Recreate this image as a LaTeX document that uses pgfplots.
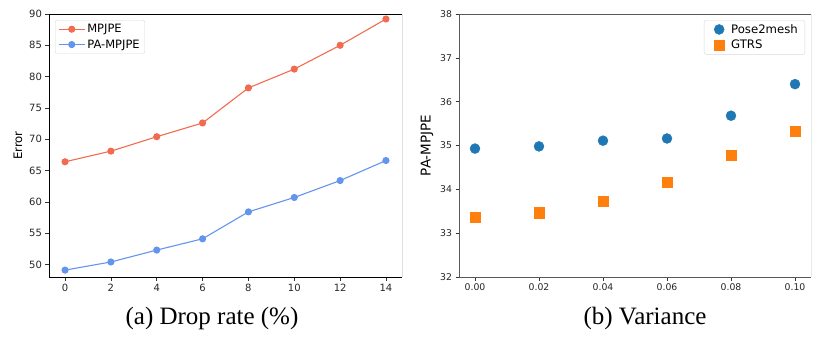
\documentclass[border=0pt]{standalone}
\usepackage{fontspec}
\setmainfont{Liberation Serif}
\newfontfamily\dejavu{DejaVu Sans}
\usepackage{pgfplots}
\pgfplotsset{compat=1.18}
\definecolor{mpRed}{HTML}{F26B50}
\definecolor{mpBlue}{HTML}{6495ED}
\definecolor{tabBlue}{HTML}{1F77B4}
\definecolor{tabOrange}{HTML}{FF7F0E}

\pgfplotsset{
  mplstyle/.style={
    scale only axis,
    width=353pt, height=263pt,
    tick align=outside,
    major tick length=3.5pt,
    tick style={black!80, line width=0.6pt},
    axis x line*=bottom, axis y line*=left,
    ticklabel style={text=black!85},
    /pgf/number format/assume math mode=true,
    legend style={draw=black!15, rounded corners=2pt, inner xsep=3pt, inner ysep=2pt,
      row sep=1.5pt},
    legend cell align=left,
  }
}

\begin{document}
\begin{tikzpicture}
\useasboundingbox (-49pt,-61pt) rectangle (781pt,277pt);
\begin{axis}[
    mplstyle,
    name=left,
    axis line style={black, line width=0.8pt},
    ticklabel style={font=\dejavu\fontsize{10}{12}\selectfont},
    ylabel style={font=\dejavu\fontsize{11.7}{14}\selectfont,
      at={(axis description cs:-0.088,0.5)}, anchor=center},
    xmin=-0.7, xmax=14.7,
    ymin=48, ymax=90,
    xtick={0,2,...,14},
    ytick={50,55,...,90},
    ylabel={Error},
    legend style={font=\dejavu\fontsize{11.5}{14}\selectfont,
      at={(rel axis cs:0.017,0.977)}, anchor=north west},
    legend image code/.code={
      \draw[mark repeat=2, mark phase=2, #1] plot coordinates {(0pt,0pt) (13pt,0pt) (26pt,0pt)};},
  ]
  \draw[black, line width=0.8pt] (rel axis cs:0,1) -- (rel axis cs:1,1) -- (rel axis cs:1,0);
  \addplot[mpRed, line width=1.1pt, mark=*, mark size=3pt] coordinates {
    (0,66.4) (2,68.1) (4,70.4) (6,72.6) (8,78.2) (10,81.2) (12,85.0) (14,89.2)};
  \addplot[mpBlue, line width=1.1pt, mark=*, mark size=3pt] coordinates {
    (0,49.1) (2,50.4) (4,52.3) (6,54.1) (8,58.4) (10,60.7) (12,63.4) (14,66.6)};
  \legend{MPJPE, PA-MPJPE}
\end{axis}
\node[font=\fontsize{25}{30}\selectfont, anchor=base] at (163pt,-47pt) {(a) Drop rate (\%)};

\begin{axis}[
    mplstyle,
    at={(410pt,0pt)},
    width=352pt,
    axis line style={black!65, line width=0.8pt},
    ticklabel style={font=\dejavu\fontsize{9.3}{11}\selectfont},
    ylabel style={font=\dejavu\fontsize{13.5}{16}\selectfont,
      at={(axis description cs:-0.091,0.5)}, anchor=center},
    xmin=-0.005, xmax=0.105,
    ymin=32, ymax=38,
    xtick={0,0.02,...,0.10},
    ytick={32,...,38},
    xticklabel style={/pgf/number format/.cd, fixed, fixed zerofill, precision=2},
    ylabel={PA-MPJPE},
    legend style={font=\dejavu\fontsize{11.7}{14}\selectfont,
      at={(rel axis cs:0.983,0.977)}, anchor=north east, inner xsep=5pt},
    legend image code/.code={
      \path[draw=none, fill=none] (0pt,0pt) (20pt,0pt);
      \draw[#1] plot coordinates {(10pt,0pt)};},
  ]
  \draw[black!65, line width=0.8pt] (rel axis cs:0,1) -- (rel axis cs:1,1) -- (rel axis cs:1,0);
  \addplot[only marks, mark=*, mark size=5pt, tabBlue, mark options={draw=tabBlue, fill=tabBlue}] coordinates {
    (0,34.93) (0.02,34.98) (0.04,35.11) (0.06,35.16) (0.08,35.68) (0.10,36.40)};
  \addplot[only marks, mark=square*, mark size=5.2pt, tabOrange, mark options={draw=tabOrange, fill=tabOrange}] coordinates {
    (0,33.37) (0.02,33.47) (0.04,33.73) (0.06,34.16) (0.08,34.78) (0.10,35.33)};
  \legend{Pose2mesh, GTRS}
\end{axis}
\node[font=\fontsize{25}{30}\selectfont, anchor=base] at (596pt,-47pt) {(b) Variance};
\end{tikzpicture}
\end{document}
